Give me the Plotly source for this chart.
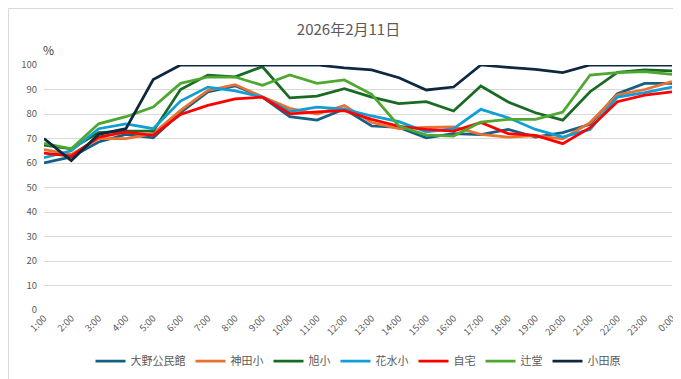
import plotly.graph_objects as go

hours = ["1:00", "2:00", "3:00", "4:00", "5:00", "6:00", "7:00", "8:00", "9:00", "10:00",
         "11:00", "12:00", "13:00", "14:00", "15:00", "16:00", "17:00", "18:00", "19:00",
         "20:00", "21:00", "22:00", "23:00", "0:00"]

ono = [60, 62.5, 68.6, 71.7, 70.3, 80.5, 89, 91.5, 86.9, 78.9, 77.5, 82, 75.1, 74.5, 70.3, 72, 71.6, 73.7, 70.6, 72.4, 75.8, 88.3, 92.5, 92.5]
kanda = [65.5, 63.5, 70, 70, 72, 81.5, 89.6, 92, 87, 82.3, 80, 83.5, 76.5, 74, 74.5, 74.7, 71.7, 70.6, 71.2, 69.9, 76.5, 87.8, 90, 93.2]
asahi = [67.3, 65.8, 72.4, 73, 73, 90, 95.9, 95.2, 99.3, 86.6, 87.3, 90.3, 86.9, 84.2, 85, 81.2, 91.4, 84.9, 80.5, 77.5, 89.1, 97, 98, 97.6]
hanamizu = [62.2, 65, 74, 76, 74, 85.3, 91, 89.4, 86.9, 81, 82.8, 82, 79.2, 76.9, 72.7, 74, 81.9, 78.5, 73.7, 70.6, 73.7, 86.9, 88.7, 91]
jitaku = [64, 62.8, 70.6, 72.6, 71.3, 79.8, 83.5, 86.2, 86.9, 80.1, 80.9, 81.4, 77.8, 75, 73.7, 73, 76.5, 72, 71.3, 67.9, 74.4, 85, 87.7, 89]
tsujido = [68, 65.8, 76, 78.9, 82.8, 92.5, 95.1, 95.1, 91.7, 95.9, 92.5, 93.9, 88, 75.1, 71.4, 71, 76.7, 77.8, 77.8, 80.8, 95.9, 96.9, 97.3, 96.2]
odawara = [70, 61, 71.7, 74, 94.1, 100, 100, 100, 100, 100, 100, 98.8, 98, 94.8, 89.8, 91, 100, 99, 98.2, 96.9, 100, 100, 100, 100]

series_names = ["大野公民館", "神田小", "旭小", "花水小", "自宅", "辻堂", "小田原"]
series_values = [ono, kanda, asahi, hanamizu, jitaku, tsujido, odawara]
series_colors = ["#156082", "#E97132", "#196B24", "#0F9ED5", "#FF0000", "#4EA72E", "#0E2841"]

fig = go.Figure()
for name, vals, col in zip(series_names, series_values, series_colors):
    fig.add_trace(go.Scatter(x=hours, y=vals, mode="lines", name=name,
                             line=dict(color=col, width=2.75)))

W, H = 681, 379
ml, mr, mt, mb = 36, 17, 57, 77
pw, ph = W - ml - mr, H - mt - mb

fig.update_layout(
    width=W, height=H,
    margin=dict(l=ml, r=mr, t=mt, b=mb, autoexpand=False),
    paper_bgcolor="white", plot_bgcolor="white",
    font=dict(family="Noto Sans CJK JP, Noto Sans, sans-serif", color="#595959", size=10),
    title=dict(text="2026年2月11日", x=0.5, xanchor="center", y=1 - 22 / H, yanchor="middle",
               font=dict(size=15, color="#595959")),
    showlegend=True,
    legend=dict(orientation="h", x=0.5, xanchor="center", y=-(353 - (H - mb)) / ph, yanchor="middle",
                font=dict(size=11, color="#595959"), itemwidth=30, tracegroupgap=0),
    xaxis=dict(type="category", tickangle=-45, tickfont=dict(size=9.5, color="#595959"),
               showgrid=False, showline=False, ticks="", zeroline=False, automargin=False),
    yaxis=dict(range=[0, 100], dtick=10, tickfont=dict(size=9.5, color="#595959"),
               showgrid=True, gridcolor="#D9D9D9", gridwidth=1, zeroline=False,
               showline=False, ticks="", ticklabelstandoff=6, automargin=False),
    annotations=[dict(text="%", xref="paper", yref="paper", x=(40 - ml) / pw, y=1 + (mt - 42) / ph,
                      xanchor="center", yanchor="middle", showarrow=False,
                      font=dict(size=12, color="#404040"))],
    shapes=[dict(type="rect", xref="paper", yref="paper",
                 x0=(0.5 - ml) / pw, x1=(W - 0.5 - ml) / pw,
                 y0=-(mb - 0.5) / ph, y1=1 + (mt - 0.5) / ph,
                 line=dict(color="#D9D9D9", width=1), fillcolor="rgba(0,0,0,0)", layer="below")],
)

fig.write_html("out.html")
